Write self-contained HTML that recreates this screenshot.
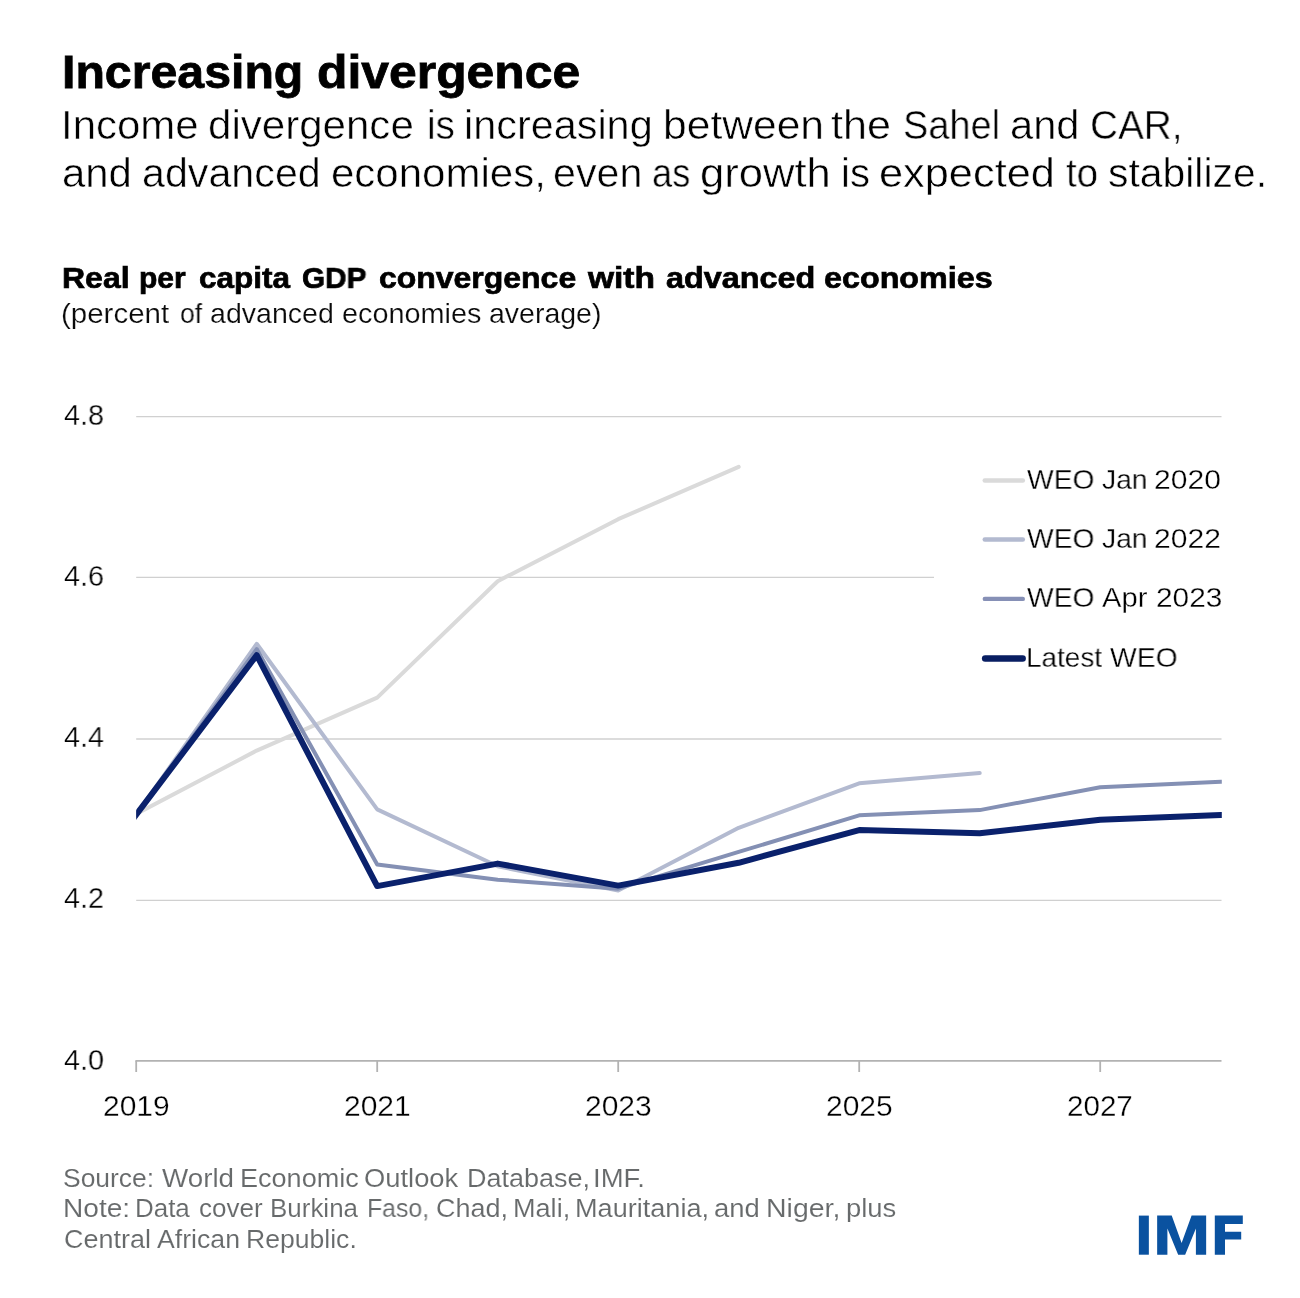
<!DOCTYPE html>
<html>
<head>
<meta charset="utf-8">
<title>Increasing divergence</title>
<style>
  html, body { margin:0; padding:0; background:#ffffff; }
  body { width:1300px; height:1298px; position:relative; overflow:hidden;
         font-family:"Liberation Sans", sans-serif; color:#000; }
  .t { position:absolute; left:0; white-space:nowrap; line-height:1; margin:0; padding:0; }
  .t span { position:absolute; top:0; display:block; white-space:nowrap; line-height:1; transform-origin:0 0; will-change:transform; }
  svg { position:absolute; left:0; top:0; }
  #title { top:48.41px; font-size:47px; font-weight:bold; color:#000000; -webkit-text-stroke:0.8px #000000; }
  #sub1 { top:105.14px; font-size:40px; color:#000000; -webkit-text-stroke:0.5px #ffffff; }
  #sub2 { top:153.44px; font-size:40px; color:#000000; -webkit-text-stroke:0.5px #ffffff; }
  #ctitle { top:262.81px; font-size:30px; font-weight:bold; color:#000000; -webkit-text-stroke:0.7px #000000; }
  #csub { top:300.32px; font-size:27.5px; color:#0a0a0a; -webkit-text-stroke:0.2px #ffffff; }
  #y48 { top:400.55px; font-size:29px; color:#000000; -webkit-text-stroke:0.3px #ffffff; }
  #y46 { top:561.70px; font-size:29px; color:#000000; -webkit-text-stroke:0.3px #ffffff; }
  #y44 { top:722.85px; font-size:29px; color:#000000; -webkit-text-stroke:0.3px #ffffff; }
  #y42 { top:884.00px; font-size:29px; color:#000000; -webkit-text-stroke:0.3px #ffffff; }
  #y40 { top:1045.55px; font-size:29px; color:#000000; -webkit-text-stroke:0.3px #ffffff; }
  #x19 { top:1091.65px; font-size:29px; color:#000000; -webkit-text-stroke:0.3px #ffffff; }
  #x21 { top:1091.65px; font-size:29px; color:#000000; -webkit-text-stroke:0.3px #ffffff; }
  #x23 { top:1091.65px; font-size:29px; color:#000000; -webkit-text-stroke:0.3px #ffffff; }
  #x25 { top:1091.65px; font-size:29px; color:#000000; -webkit-text-stroke:0.3px #ffffff; }
  #x27 { top:1091.65px; font-size:29px; color:#000000; -webkit-text-stroke:0.3px #ffffff; }
  #lg1 { top:464.77px; font-size:28.5px; color:#000000; -webkit-text-stroke:0.3px #ffffff; }
  #lg2 { top:523.77px; font-size:28.5px; color:#000000; -webkit-text-stroke:0.3px #ffffff; }
  #lg3 { top:583.37px; font-size:28.5px; color:#000000; -webkit-text-stroke:0.3px #ffffff; }
  #lg4 { top:643.27px; font-size:28.5px; color:#000000; -webkit-text-stroke:0.3px #ffffff; }
  #f1 { top:1165.71px; font-size:25.5px; color:#676a6b; -webkit-text-stroke:0.1px #ffffff; }
  #f2 { top:1195.91px; font-size:25.5px; color:#676a6b; -webkit-text-stroke:0.1px #ffffff; }
  #f3 { top:1226.71px; font-size:25.5px; color:#676a6b; -webkit-text-stroke:0.1px #ffffff; }
</style>
</head>
<body>

<svg width="1300" height="1298" viewBox="0 0 1300 1298">
  <defs>
    <clipPath id="plot"><rect x="136.2" y="380" width="1085.6" height="700"/></clipPath>
  </defs>
  <!-- gridlines -->
  <g stroke="#d0d0d0" stroke-width="1.3" fill="none">
    <line x1="136.2" y1="416.65" x2="1221.5" y2="416.65"/>
    <line x1="136.2" y1="577.35" x2="934"    y2="577.35"/>
    <line x1="136.2" y1="739.0" x2="1221.5" y2="739.0"/>
    <line x1="136.2" y1="900.3" x2="1221.5" y2="900.3"/>
  </g>
  <!-- series -->
  <g fill="none" stroke-linejoin="round" clip-path="url(#plot)">
    <polyline stroke="#dadada" stroke-width="4.0" stroke-linecap="round"
      points="136.2,814.0 256.7,750.6 377.2,697.6 497.7,581.2 618.2,519.2 738.7,466.9"/>
    <polyline stroke="#b3bad0" stroke-width="4.0" stroke-linecap="round"
      points="136.2,814.7 256.7,643.8 377.2,809.4 497.7,866.3 618.2,890.5 738.7,827.8 859.2,783.3 979.7,773.0"/>
    <polyline stroke="#8490b4" stroke-width="4.0" stroke-linecap="butt"
      points="130,823 136.2,814.7 256.7,649.1 377.2,864.4 497.7,879.7 618.2,888.7 738.7,851.9 859.2,815.3 979.7,810.1 1100.2,787.2 1220.7,781.7 1230,781.3"/>
    <polyline stroke="#0a216c" stroke-width="6.0" stroke-linecap="butt"
      points="130,822.9 136.2,814.7 256.7,655.2 377.2,886.1 497.7,863.6 618.2,885.6 738.7,862.8 859.2,830.1 979.7,833.3 1100.2,819.8 1220.7,815.0 1230,814.6"/>
  </g>
  <!-- x axis -->
  <g stroke="#b2b2b2" stroke-width="1.8" fill="none">
    <line x1="135.4" y1="1060.9" x2="1221.5" y2="1060.9"/>
    <line x1="136.2" y1="1060.9" x2="136.2" y2="1072"/>
    <line x1="377.2" y1="1060.9" x2="377.2" y2="1072"/>
    <line x1="618.2" y1="1060.9" x2="618.2" y2="1072"/>
    <line x1="859.2" y1="1060.9" x2="859.2" y2="1072"/>
    <line x1="1100.2" y1="1060.9" x2="1100.2" y2="1072"/>
  </g>
  <!-- legend swatches -->
  <g fill="none" stroke-linecap="round">
    <line x1="984.8" y1="480.5" x2="1022.8" y2="480.5" stroke="#dadada" stroke-width="4.6"/>
    <line x1="984.8" y1="539.4" x2="1022.8" y2="539.4" stroke="#b3bad0" stroke-width="4.5"/>
    <line x1="984.8" y1="598.9" x2="1022.8" y2="598.9" stroke="#8690b6" stroke-width="4.4"/>
    <line x1="985.2" y1="658.45" x2="1022.6" y2="658.45" stroke="#081e62" stroke-width="6.6"/>
  </g>
  <!-- IMF logo -->
  <g fill="#0a52a0">
    <rect x="1138.85" y="1215.6" width="10.0" height="39.1"/>
    <polygon points="1157.15,1215.6 1171.7,1215.6 1181.6,1243.1 1191.6,1215.6 1206.15,1215.6 1206.15,1254.7 1195.9,1254.7 1195.9,1228.5 1185.15,1254.7 1178.15,1254.7 1167.4,1228.5 1167.4,1254.7 1157.15,1254.7"/>
    <polygon points="1214.8,1215.6 1242.8,1215.6 1242.8,1223.9 1225.0,1223.9 1225.0,1231.8 1241.2,1231.8 1241.2,1239.6 1225.0,1239.6 1225.0,1254.7 1214.8,1254.7"/>
  </g>
</svg>

<div class="t" id="title"><span style="left:62.32px; transform:scaleX(1.0265)">Increasing</span> <span style="left:317.44px; transform:scaleX(1.0606)">divergence</span></div>
<div class="t" id="sub1"><span style="left:61.00px; transform:scaleX(1.0488)">Income</span> <span style="left:207.70px; transform:scaleX(1.0516)">divergence</span> <span style="left:427.32px; transform:scaleX(0.9583)">is</span> <span style="left:464.00px; transform:scaleX(1.0347)">increasing</span> <span style="left:663.01px; transform:scaleX(1.0648)">between</span> <span style="left:831.22px; transform:scaleX(1.0769)">the</span> <span style="left:902.70px; transform:scaleX(0.9480)">Sahel</span> <span style="left:1010.22px; transform:scaleX(1.0419)">and</span> <span style="left:1090.36px; transform:scaleX(0.9678)">CAR,</span></div>
<div class="t" id="sub2"><span style="left:61.61px; transform:scaleX(1.0468)">and</span> <span style="left:141.64px; transform:scaleX(1.0302)">advanced</span> <span style="left:331.10px; transform:scaleX(1.0503)">economies,</span> <span style="left:553.34px; transform:scaleX(1.0317)">even</span> <span style="left:651.98px; transform:scaleX(0.9077)">as</span> <span style="left:700.12px; transform:scaleX(1.0887)">growth</span> <span style="left:840.84px; transform:scaleX(0.9875)">is</span> <span style="left:879.23px; transform:scaleX(1.0834)">expected</span> <span style="left:1066.14px; transform:scaleX(0.9633)">to</span> <span style="left:1107.76px; transform:scaleX(1.0220)">stabilize.</span></div>
<div class="t" id="ctitle"><span style="left:62.47px; transform:scaleX(1.0667)">Real</span> <span style="left:138.92px; transform:scaleX(0.9911)">per</span> <span style="left:198.95px; transform:scaleX(1.0488)">capita</span> <span style="left:302.11px; transform:scaleX(0.9905)">GDP</span> <span style="left:379.13px; transform:scaleX(1.0652)">convergence</span> <span style="left:587.80px; transform:scaleX(1.1169)">with</span> <span style="left:665.50px; transform:scaleX(1.0781)">advanced</span> <span style="left:823.52px; transform:scaleX(1.0761)">economies</span></div>
<div class="t" id="csub"><span style="left:60.96px; transform:scaleX(1.0717)">(percent</span> <span style="left:179.93px; transform:scaleX(0.9682)">of</span> <span style="left:209.76px; transform:scaleX(1.0385)">advanced</span> <span style="left:341.85px; transform:scaleX(1.0481)">economies</span> <span style="left:488.96px; transform:scaleX(1.0358)">average)</span></div>
<div class="t" id="y48"><span style="left:64.41px; transform:scaleX(0.9895)">4.8</span></div>
<div class="t" id="y46"><span style="left:64.41px; transform:scaleX(0.9895)">4.6</span></div>
<div class="t" id="y44"><span style="left:64.41px; transform:scaleX(0.9895)">4.4</span></div>
<div class="t" id="y42"><span style="left:64.41px; transform:scaleX(0.9895)">4.2</span></div>
<div class="t" id="y40"><span style="left:64.41px; transform:scaleX(0.9895)">4.0</span></div>
<div class="t" id="x19"><span style="left:102.53px; transform:scaleX(1.0344)">2019</span></div>
<div class="t" id="x21"><span style="left:343.53px; transform:scaleX(1.0344)">2021</span></div>
<div class="t" id="x23"><span style="left:584.53px; transform:scaleX(1.0344)">2023</span></div>
<div class="t" id="x25"><span style="left:825.53px; transform:scaleX(1.0344)">2025</span></div>
<div class="t" id="x27"><span style="left:1066.76px; transform:scaleX(1.0197)">2027</span></div>
<div class="t" id="lg1"><span style="left:1027.21px; transform:scaleX(0.9894)">WEO</span> <span style="left:1102.21px; transform:scaleX(0.9907)">Jan</span> <span style="left:1153.69px; transform:scaleX(1.0550)">2020</span></div>
<div class="t" id="lg2"><span style="left:1027.21px; transform:scaleX(0.9894)">WEO</span> <span style="left:1102.21px; transform:scaleX(0.9907)">Jan</span> <span style="left:1153.69px; transform:scaleX(1.0550)">2022</span></div>
<div class="t" id="lg3"><span style="left:1027.41px; transform:scaleX(0.9894)">WEO</span> <span style="left:1102.18px; transform:scaleX(1.0233)">Apr</span> <span style="left:1155.51px; transform:scaleX(1.0467)">2023</span></div>
<div class="t" id="lg4"><span style="left:1025.96px; transform:scaleX(0.9797)">Latest</span> <span style="left:1110.31px; transform:scaleX(0.9924)">WEO</span></div>
<div class="t" id="f1"><span style="left:62.53px; transform:scaleX(1.0369)">Source:</span> <span style="left:161.50px; transform:scaleX(1.0892)">World</span> <span style="left:240.08px; transform:scaleX(1.0606)">Economic</span> <span style="left:364.13px; transform:scaleX(1.0724)">Outlook</span> <span style="left:466.68px; transform:scaleX(1.0580)">Database,</span> <span style="left:592.85px; transform:scaleX(1.0773)">IMF.</span></div>
<div class="t" id="f2"><span style="left:63.30px; transform:scaleX(1.1018)">Note:</span> <span style="left:134.87px; transform:scaleX(1.0173)">Data</span> <span style="left:198.98px; transform:scaleX(1.0197)">cover</span> <span style="left:270.26px; transform:scaleX(1.0179)">Burkina</span> <span style="left:366.65px; transform:scaleX(0.9733)">Faso,</span> <span style="left:435.54px; transform:scaleX(1.0585)">Chad,</span> <span style="left:512.88px; transform:scaleX(1.0620)">Mali,</span> <span style="left:574.78px; transform:scaleX(1.0623)">Mauritania,</span> <span style="left:714.32px; transform:scaleX(1.0775)">and</span> <span style="left:765.87px; transform:scaleX(1.1161)">Niger,</span> <span style="left:845.55px; transform:scaleX(1.0750)">plus</span></div>
<div class="t" id="f3"><span style="left:63.54px; transform:scaleX(1.0575)">Central</span> <span style="left:156.90px; transform:scaleX(1.0462)">African</span> <span style="left:246.22px; transform:scaleX(1.0422)">Republic.</span></div>

</body>
</html>
